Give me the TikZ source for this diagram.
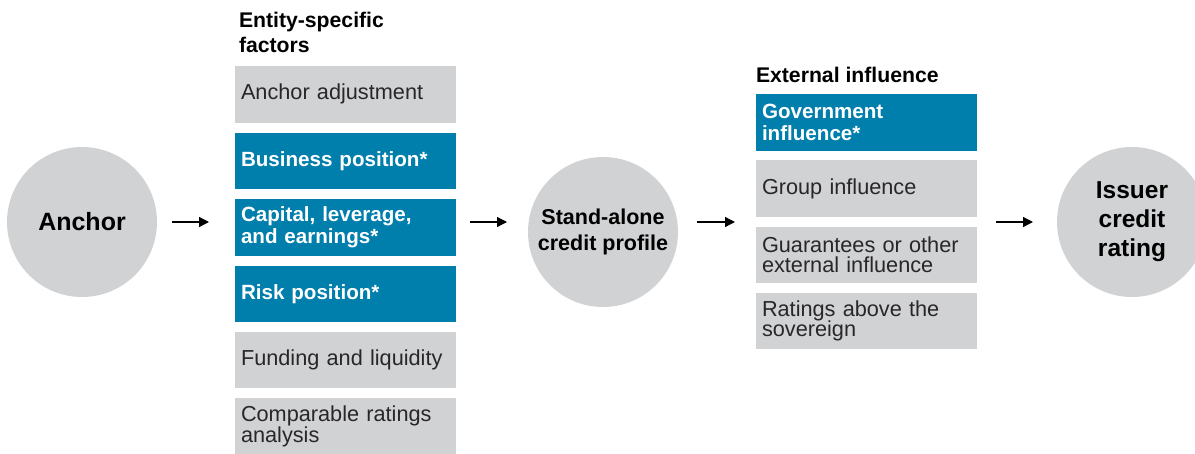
\documentclass[tikz,border=0pt]{standalone}
\usepackage{fontspec}
\setmainfont{Liberation Sans}
\usetikzlibrary{arrows.meta}
\definecolor{spblue}{RGB}{0,126,172}
\definecolor{spgray}{RGB}{209,210,212}
\definecolor{sptext}{RGB}{40,38,40}
\tikzset{
  every node/.style={inner sep=0pt, outer sep=0pt},
  fbox/.style={rectangle, minimum width=221pt, minimum height=56.5pt,
    text width=209pt, align=left, inner xsep=6pt},
  graybox/.style={fbox, fill=spgray, text=sptext,
    font=\fontsize{21.7}{20.5}\selectfont},
  bluebox/.style={fbox, fill=spblue, text=white,
    font=\bfseries\fontsize{20.6}{21.5}\selectfont},
  circ/.style={circle, minimum size=150pt, fill=spgray, text=black, align=center},
  ttl/.style={anchor=base west, font=\bfseries\fontsize{21.2}{24}\selectfont, text=black},
  arr/.style={-{Triangle[length=10pt,width=10pt]}, line width=1.3pt, black},
}
\begin{document}
\begin{tikzpicture}[x=1pt,y=-1pt]
\useasboundingbox (0,0) rectangle (1195,453);
\clip (0,0) rectangle (1195,453);
% circles
\node[circ, font=\bfseries\fontsize{25}{28}\selectfont] (anchor) at (82,222) {Anchor};
\node[circ, font=\bfseries\fontsize{21.5}{26.5}\selectfont] (sa) at (603,232) {Stand-alone\\credit profile};
\node[circ, font=\bfseries\fontsize{24.5}{29}\selectfont] (icr) at (1132,222) {Issuer\\credit\\rating};
% titles
\node[ttl] (t1a) at (239,27.7) {Entity-specific};
\node[ttl] (t1b) at (239,52.7) {factors};
\node[ttl] (t2) at (756,82.7) {External influence};
% left column
\node[graybox] (adj) at (345.5,94.25) {Anchor adjustment};
\node[bluebox] (bus) at (345.5,160.75) {Business position*};
\node[bluebox] (cap) at (345.5,227.25) {Capital, leverage,\\and earnings*};
\node[bluebox] (risk) at (345.5,293.75) {Risk position*};
\node[graybox] (fund) at (345.5,359.75) {Funding and liquidity};
\node[graybox] (comp) at (345.5,426.25) {Comparable ratings\\analysis};
% right column
\node[bluebox] (gov) at (866.5,122.25) {Government\\influence*};
\node[graybox] (grp) at (866.5,188.5) {Group influence};
\node[graybox] (gua) at (866.5,254.75) {Guarantees or other\\external influence};
\node[graybox] (sov) at (866.5,321) {Ratings above the\\sovereign};
% arrows
\draw[arr, shorten <=15pt, shorten >=26pt] (anchor.east) -- (anchor.east -| cap.west);
\draw[arr, shorten <=14pt, shorten >=21pt] (anchor.east -| cap.east) -- (anchor.east -| sa.west);
\draw[arr, shorten <=19pt, shorten >=21pt] (anchor.east -| sa.east) -- (anchor.east -| gua.west);
\draw[arr, shorten <=19pt, shorten >=24pt] (anchor.east -| gua.east) -- (icr.west);
\end{tikzpicture}
\end{document}
